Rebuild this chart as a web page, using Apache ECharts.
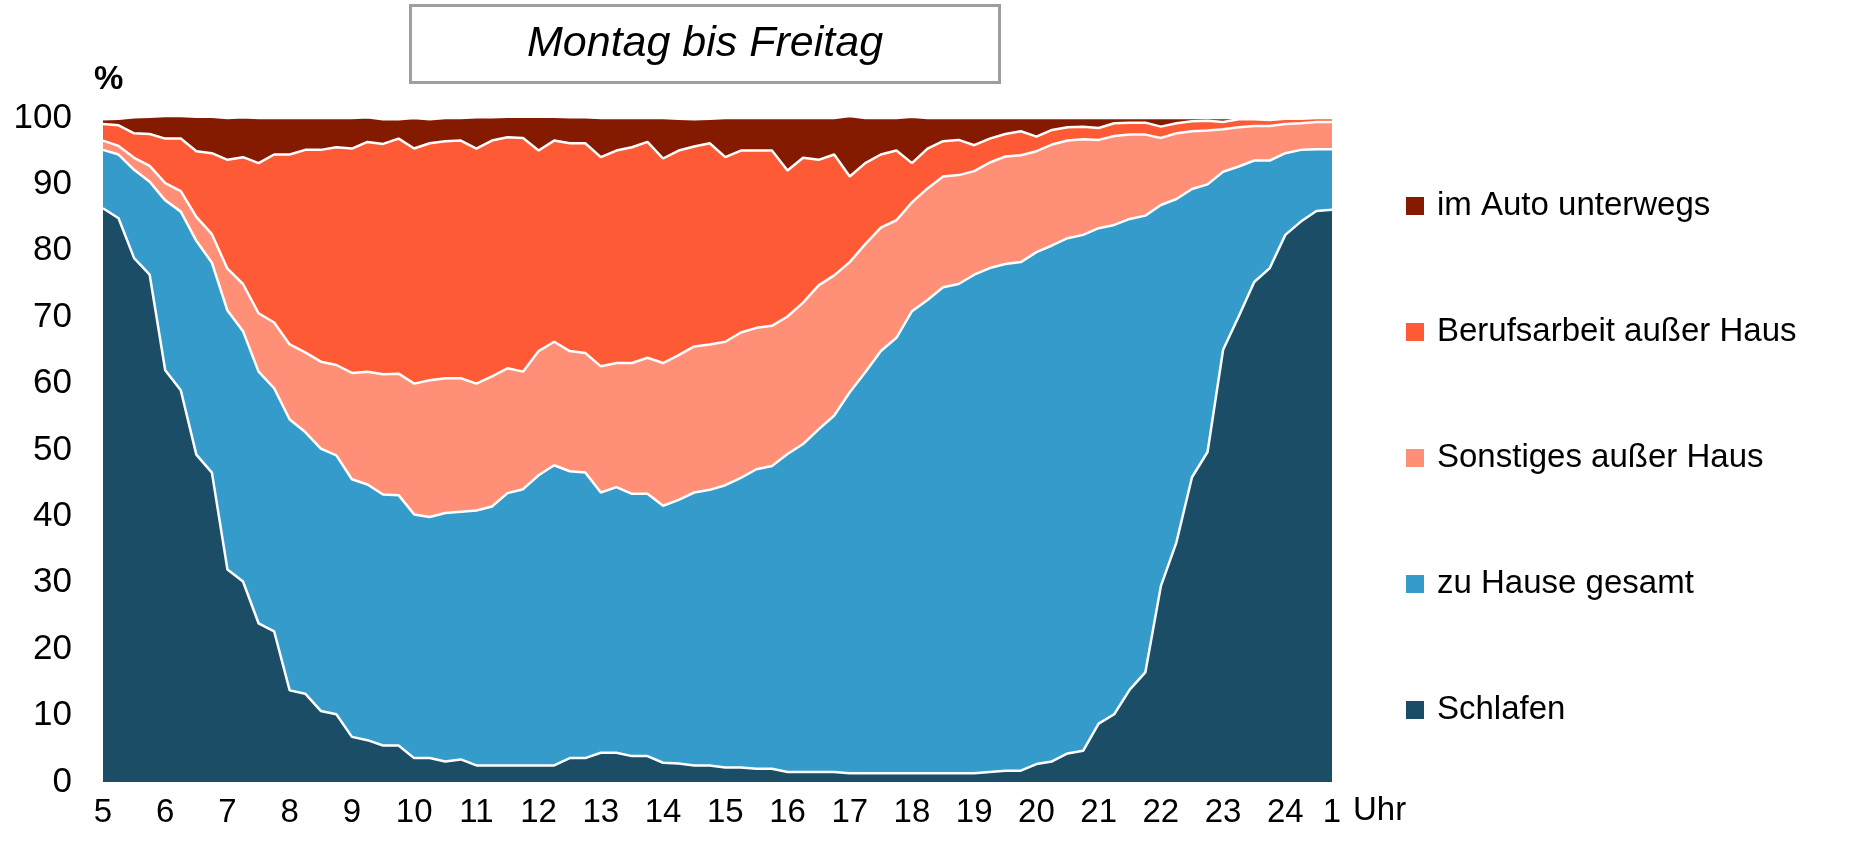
<!DOCTYPE html>
<html>
<head>
<meta charset="utf-8">
<script src="https://cdn.jsdelivr.net/npm/echarts@6/dist/echarts.min.js"></script>
<style>
	html, body { margin: 0; padding: 0; background: #fff; }
	#chart { width: 1849px; height: 856px; }
</style>
</head>
<body>
<div id="chart"></div>
<script>
// Stundenbeschriftung der x-Achse (alle 4 Viertelstunden, plus Ende)
var hourLabels = ['5', '6', '7', '8', '9', '10', '11', '12', '13', '14', '15', '16', '17', '18', '19', '20', '21', '22', '23', '24', '1'];
var yTicks = [0, 10, 20, 30, 40, 50, 60, 70, 80, 90, 100];

var seriesNames = ['Schlafen', 'zu Hause gesamt', 'Sonstiges außer Haus', 'Berufsarbeit außer Haus', 'im Auto unterwegs'];
var seriesColors = ['#1b4d66', '#349bcb', '#ff9077', '#ff5a36', '#841a00'];

// Anteile in %, Viertelstunden von 5:00 bis 0:45
var schlafen = [86.4, 84.9, 78.9, 76.4, 62.0, 59.0, 49.3, 46.6, 32.0, 30.2,
	23.9, 22.7, 13.8, 13.3, 10.7, 10.2, 6.8, 6.3, 5.5, 5.5,
	3.6, 3.6, 3.1, 3.4, 2.5, 2.5, 2.5, 2.5, 2.5, 2.5,
	3.6, 3.6, 4.4, 4.4, 3.9, 3.9, 2.9, 2.8, 2.5, 2.5,
	2.2, 2.2, 2.0, 2.0, 1.5, 1.5, 1.5, 1.5, 1.3, 1.3,
	1.3, 1.3, 1.3, 1.3, 1.3, 1.3, 1.3, 1.5, 1.7, 1.7,
	2.7, 3.1, 4.3, 4.7, 8.8, 10.2, 13.9, 16.5, 29.5, 36.1,
	45.9, 49.7, 65.1, 70.1, 75.3, 77.4, 82.4, 84.4, 86.0, 86.2];

var zuHause = [8.8, 9.6, 13.3, 14.0, 25.6, 26.9, 32.2, 31.6, 39.0, 37.7,
	37.9, 36.6, 40.8, 39.4, 39.5, 39.0, 38.8, 38.5, 37.8, 37.7,
	36.7, 36.3, 37.4, 37.3, 38.4, 39.0, 41.0, 41.6, 43.7, 45.2,
	43.2, 43.0, 39.2, 40.0, 39.5, 39.5, 38.7, 39.7, 41.1, 41.5,
	42.5, 43.6, 45.1, 45.6, 47.9, 49.4, 51.6, 53.7, 57.4, 60.4,
	63.6, 65.6, 69.6, 71.3, 73.2, 73.7, 75.1, 75.9, 76.3, 76.6,
	77.1, 77.7, 77.6, 77.7, 74.6, 73.7, 70.9, 68.8, 57.4, 51.7,
	43.4, 40.3, 26.8, 22.6, 18.3, 16.2, 12.3, 10.8, 9.3, 9.1];

var sonstiges = [1.4, 1.3, 1.8, 2.4, 2.6, 3.1, 3.6, 4.3, 6.3, 7.1,
	8.8, 9.9, 11.3, 12.0, 13.1, 13.6, 16.0, 17.0, 18.1, 18.3,
	19.7, 20.6, 20.3, 20.1, 19.1, 19.6, 18.8, 17.7, 18.7, 18.6,
	18.1, 18.0, 19.0, 18.7, 19.7, 20.5, 21.5, 21.8, 22.0, 21.9,
	21.6, 21.9, 21.3, 21.1, 20.7, 21.3, 21.7, 21.1, 19.6, 19.3,
	18.6, 17.7, 16.4, 16.8, 16.7, 16.4, 15.6, 15.9, 16.2, 16.1,
	15.2, 15.2, 14.7, 14.4, 13.3, 13.4, 12.7, 12.2, 10.1, 9.9,
	8.7, 8.1, 6.4, 5.9, 5.2, 5.2, 4.4, 4.0, 4.1, 4.1];

var beruf = [2.5, 3.1, 3.7, 4.8, 6.7, 7.9, 9.9, 12.2, 16.4, 19.1,
	22.6, 25.3, 28.6, 30.5, 31.9, 32.8, 33.8, 34.6, 34.7, 35.4,
	35.4, 35.7, 35.7, 35.8, 35.4, 35.5, 34.8, 35.2, 30.2, 30.3,
	31.3, 31.6, 31.5, 32.0, 32.5, 32.5, 30.8, 30.8, 30.1, 30.3,
	27.8, 27.4, 26.7, 26.4, 22.0, 21.8, 18.9, 18.2, 12.9, 12.2,
	11.0, 10.5, 5.9, 6.0, 5.3, 5.3, 3.9, 3.6, 3.4, 3.6,
	2.2, 2.2, 2.0, 1.9, 1.8, 1.9, 1.8, 1.8, 1.7, 1.5,
	1.5, 1.5, 1.1, 1.2, 1.0, 0.9, 0.8, 0.7, 0.6, 0.6];

var auto = [0.7, 1.0, 2.4, 2.6, 3.4, 3.4, 5.2, 5.5, 6.3, 6.0,
	6.8, 5.5, 5.5, 4.8, 4.8, 4.4, 4.6, 3.7, 3.7, 2.9,
	4.6, 3.6, 3.5, 3.4, 4.7, 3.5, 3.1, 3.2, 5.1, 3.6,
	3.9, 3.9, 5.9, 4.9, 4.4, 3.6, 6.1, 4.8, 4.1, 3.7,
	5.9, 4.9, 4.9, 4.9, 7.9, 6.0, 6.3, 5.5, 9.1, 6.8,
	5.5, 4.9, 7.0, 4.6, 3.5, 3.3, 4.1, 3.1, 2.4, 2.0,
	2.8, 1.8, 1.4, 1.3, 1.5, 0.8, 0.7, 0.7, 1.3, 0.8,
	0.5, 0.4, 0.6, 0.2, 0.2, 0.3, 0.1, 0.1, 0.0, 0.0];

// Kategorien: Uhrzeiten im Viertelstundentakt
var categories = [];
for (var i = 0; i < schlafen.length; i++) {
	var h = (5 + Math.floor(i / 4)) % 24;
	var m = (i % 4) * 15;
	categories.push(h + ':' + (m < 10 ? '0' + m : m));
}
var lastIdx = categories.length - 1;

var font = 'Liberation Sans, Arial, sans-serif';
var allValues = [schlafen, zuHause, sonstiges, beruf, auto];

var myChart = echarts.init(document.getElementById('chart'));
var option = {
	backgroundColor: '#fff',
	animation: false,
	title: {
		text: 'Montag bis Freitag',
		left: 410,
		top: 5,
		padding: [17, 117, 17, 117],
		borderWidth: 3,
		borderColor: '#9e9e9e',
		backgroundColor: '#fff',
		textStyle: {
			fontFamily: font,
			fontSize: 43,
			fontStyle: 'italic',
			fontWeight: 'normal',
			color: '#000',
			lineHeight: 44
		}
	},
	legend: {
		orient: 'vertical',
		left: 1401,
		top: 181,
		itemWidth: 18,
		itemHeight: 18,
		itemGap: 86,
		icon: 'rect',
		data: ['im Auto unterwegs', 'Berufsarbeit außer Haus', 'Sonstiges außer Haus', 'zu Hause gesamt', 'Schlafen'],
		textStyle: {
			fontFamily: font,
			fontSize: 33,
			lineHeight: 40,
			color: '#000',
			padding: [0, 0, 0, 8]
		}
	},
	grid: {
		left: 103,
		right: 517,
		top: 118,
		bottom: 74
	},
	xAxis: {
		type: 'category',
		boundaryGap: false,
		data: categories,
		axisLine: { show: false },
		axisTick: { show: false },
		axisLabel: {
			interval: function (index) {
				return index % 4 === 0 || index === lastIdx;
			},
			formatter: function (value, index) {
				if (index === lastIdx) return hourLabels[hourLabels.length - 1];
				return hourLabels[index / 4];
			},
			margin: 14,
			fontFamily: font,
			fontSize: 33,
			color: '#000'
		}
	},
	yAxis: {
		type: 'value',
		min: yTicks[0],
		max: yTicks[yTicks.length - 1],
		interval: 10,
		name: '%',
		nameLocation: 'end',
		nameGap: 38,
		nameTextStyle: {
			fontFamily: font,
			fontSize: 33,
			fontWeight: 'bold',
			color: '#000',
			align: 'left',
			verticalAlign: 'middle',
			padding: [0, 0, 0, -9]
		},
		axisLine: { show: false },
		axisTick: { show: false },
		splitLine: { show: false },
		axisLabel: {
			margin: 31,
			fontFamily: font,
			fontSize: 35,
			color: '#000'
		}
	},
	graphic: [{
		type: 'text',
		left: 1353,
		top: 794,
		style: {
			text: 'Uhr',
			font: '33px ' + font,
			fill: '#000'
		}
	}],
	series: seriesNames.map(function (name, k) {
		return {
			name: name,
			type: 'line',
			stack: 'gesamt',
			data: allValues[k],
			symbol: 'none',
			clip: false,
			z: 10 - k,
			color: seriesColors[k],
			lineStyle: { color: '#fff', width: 2.5 },
			areaStyle: { color: seriesColors[k], opacity: 1 },
			emphasis: { disabled: true }
		};
	})
};
myChart.setOption(option);
</script>
</body>
</html>
